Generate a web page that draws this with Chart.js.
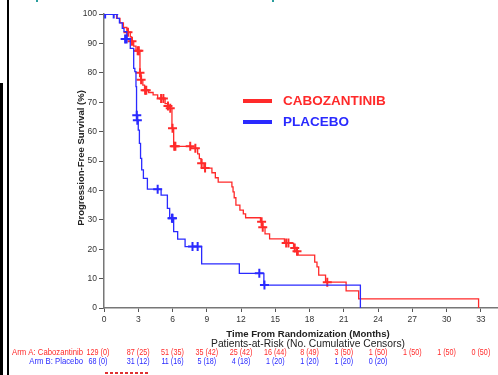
<!DOCTYPE html>
<html>
<head>
<meta charset="utf-8">
<script src="https://cdn.jsdelivr.net/npm/chart.js@4.4.1/dist/chart.umd.min.js"></script>
<style>
  html, body { margin: 0; padding: 0; background: #fff; }
  #wrap { width: 498px; height: 375px; position: relative; }
</style>
</head>
<body>
<div id="wrap"><canvas id="km" width="498" height="375"></canvas></div>
<script>
// Kaplan-Meier steps: time (months) where survival drops, new survival (%)
const caboT = [0, 1.1, 1.4, 1.7, 2.0, 2.3, 2.4, 2.6, 2.8, 3.15, 3.25, 3.4, 3.55, 3.9, 4.3, 4.7, 5.35, 5.6, 5.8, 5.95, 6.1, 7.6, 8.2, 8.35, 8.5, 8.75, 9.45, 9.75, 10.0,
  11.2, 11.3, 11.4, 11.55, 11.9, 12.2, 12.4, 13.7, 13.85, 14.1, 14.5, 15.8, 16.6, 16.85, 17.0, 18.45, 18.65, 18.8, 19.4, 21.2, 22.3, 32.8];
const caboS = [100, 98.5, 97, 95.4, 93.8, 92.2, 90.7, 89.1, 87.5, 80.0, 77.6, 75.8, 74.1, 73.3, 72.5, 71.3, 69.5, 68.7, 67.9, 61.1, 55.0, 54.3, 52.4, 50.8, 49.2, 47.6, 46.0, 44.3, 42.8,
  41.2, 39.5, 37.5, 35.0, 33.3, 32.0, 30.7, 29.3, 27.5, 25.2, 23.5, 22.1, 20.4, 19.3, 18.0, 15.6, 14.0, 11.2, 8.8, 5.8, 3.1, 0];
const caboCensT = [2.1, 2.45, 2.95, 3.05, 3.15, 3.25, 3.6, 3.7, 5.0, 5.2, 5.6, 5.8, 6.0, 6.15, 6.25, 7.55, 8.0, 8.55, 8.85, 13.8, 13.9, 15.95, 16.15, 16.7, 16.9, 19.55];
const caboCensS = [93.8, 90.7, 87.5, 87.5, 80.0, 77.6, 74.1, 74.1, 71.3, 71.3, 68.7, 67.9, 61.1, 55.0, 55.0, 55.0, 54.3, 49.2, 47.6, 29.3, 27.5, 22.1, 22.1, 20.4, 19.3, 8.8];

const placT = [0, 1.15, 1.35, 1.6, 1.75, 2.0, 2.3, 2.6, 2.7, 2.8, 2.85, 2.9, 3.0, 3.1, 3.2, 3.3, 3.45, 3.8, 5.0, 5.55, 5.75, 6.1, 6.45, 7.1, 8.55, 11.85, 14.0, 22.45];
const placS = [100, 98.5, 97, 95.1, 94, 91.5, 88.3, 81.5, 80.4, 75.3, 65.6, 63.9, 60.5, 56, 50.9, 47, 44.1, 40.4, 38.4, 33.9, 30.5, 26.0, 23.4, 20.9, 15.0, 11.8, 7.8, 0];
const placCensT = [0.1, 0.85, 1.85, 1.98, 2.87, 2.92, 4.7, 5.95, 6.0, 7.75, 8.2, 13.6, 14.05];
const placCensS = [100, 100, 91.5, 91.5, 65.6, 63.9, 40.4, 30.5, 30.5, 20.9, 20.9, 11.8, 7.8];

const xTicks = [0, 3, 6, 9, 12, 15, 18, 21, 24, 27, 30, 33];
const yTicks = [0, 10, 20, 30, 40, 50, 60, 70, 80, 90, 100];
const riskCabo = ['129 (0)', '87 (25)', '51 (35)', '35 (42)', '25 (42)', '16 (44)', '8 (49)', '3 (50)', '1 (50)', '1 (50)', '1 (50)', '0 (50)'];
const riskPlac = ['68 (0)', '31 (12)', '11 (16)', '5 (18)', '4 (18)', '1 (20)', '1 (20)', '1 (20)', '0 (20)'];

const RED = '#ff2a2a';
const BLUE = '#2a2aff';
const FONT = '"Liberation Sans", Arial, sans-serif';

function pts(xs, ys) { return xs.map((x, i) => ({ x: x, y: ys[i] })); }

// narrow text helper (the risk table is set in a condensed face)
function narrowText(c, txt, x, y, align, sx) {
  c.save();
  c.translate(x, y);
  c.scale(sx, 1);
  c.textAlign = align;
  c.fillText(txt, 0, 0);
  c.restore();
}

// extra text, legend and slide leftovers
const extras = {
  id: 'extras',
  beforeDraw(chart) {
    const c = chart.ctx;
    c.save();
    c.fillStyle = '#fff';
    c.fillRect(0, 0, chart.width, chart.height);
    c.fillStyle = '#000';
    c.fillRect(7, 0, 2, 375);
    c.fillRect(0, 83, 3, 292);
    c.fillStyle = '#2a9d9d';
    c.fillRect(36, 0, 2, 2);
    c.fillRect(272, 0, 2, 2);
    c.fillStyle = '#e03030';
    for (let x = 105; x < 147; x += 5) c.fillRect(x, 372, 3, 2);
    c.restore();
  },
  afterDraw(chart) {
    const c = chart.ctx;
    const xs = chart.scales.x;
    c.save();
    // y title
    c.translate(81, 158);
    c.rotate(-Math.PI / 2);
    c.fillStyle = '#222';
    c.font = 'bold 9.5px ' + FONT;
    c.textAlign = 'center';
    c.textBaseline = 'middle';
    c.fillText('Progression-Free Survival (%)', 0, 0);
    c.restore();

    c.save();
    c.fillStyle = '#222';
    c.textAlign = 'center';
    c.textBaseline = 'middle';
    c.font = 'bold 9.6px ' + FONT;
    c.fillText('Time From Randomization (Months)', 308, 334);
    c.font = '10.3px ' + FONT;
    c.fillText('Patients-at-Risk (No. Cumulative Censors)', 308, 344);

    // risk table
    c.font = '9px ' + FONT;
    c.fillStyle = RED;
    narrowText(c, 'Arm A: Cabozantinib', 83, 353, 'right', 0.86);
    c.fillStyle = BLUE;
    narrowText(c, 'Arm B: Placebo', 83, 362, 'right', 0.86);
    const row = (vals, y, col) => {
      c.fillStyle = col;
      vals.forEach((v, i) => {
        const px = xs.getPixelForValue(xTicks[i]) - (i === 0 ? 6 : 0);
        narrowText(c, v, px, y, 'center', 0.8);
      });
    };
    row(riskCabo, 353, RED);
    row(riskPlac, 362, BLUE);

    // legend
    c.fillStyle = RED;
    c.fillRect(243, 99, 29, 4);
    c.fillStyle = BLUE;
    c.fillRect(243, 120, 29, 4);
    c.font = 'bold 13.5px ' + FONT;
    c.textAlign = 'left';
    c.fillStyle = RED;
    c.fillText('CABOZANTINIB', 283, 101.5);
    c.fillStyle = BLUE;
    c.fillText('PLACEBO', 283, 122.5);
    c.restore();
  }
};

new Chart(document.getElementById('km'), {
  type: 'scatter',
  data: {
    datasets: [
      { data: pts(placCensT, placCensS), pointStyle: 'cross', radius: 4.5, borderWidth: 2, borderColor: BLUE, showLine: false, order: 1 },
      { data: pts(placT, placS), showLine: true, stepped: 'before', borderColor: BLUE, borderWidth: 1.3, pointRadius: 0, fill: false, order: 2 },
      { data: pts(caboCensT, caboCensS), pointStyle: 'cross', radius: 4.5, borderWidth: 2, borderColor: RED, showLine: false, order: 3 },
      { data: pts(caboT, caboS), showLine: true, stepped: 'before', borderColor: RED, borderWidth: 1.3, pointRadius: 0, fill: false, order: 4 }
    ]
  },
  options: {
    responsive: false,
    animation: false,
    layout: { autoPadding: false, padding: { left: 70, right: 0, top: 14, bottom: 0 } },
    plugins: { legend: { display: false }, tooltip: { enabled: false } },
    scales: {
      x: {
        type: 'linear',
        min: 0,
        max: 34.5,
        afterFit: s => { s.height = 67; },
        afterBuildTicks: s => { s.ticks = xTicks.map(v => ({ value: v })); },
        grid: { drawOnChartArea: false, drawTicks: true, tickLength: 4, color: '#555' },
        border: { display: true, color: '#777', width: 1.5 },
        ticks: { color: '#333', font: { size: 8.5, family: FONT }, padding: 3, maxRotation: 0, autoSkip: false }
      },
      y: {
        min: 0,
        max: 100,
        afterFit: s => { s.width = 34; },
        afterBuildTicks: s => { s.ticks = yTicks.map(v => ({ value: v })); },
        grid: { drawOnChartArea: false, drawTicks: true, tickLength: 5, color: '#555' },
        border: { display: true, color: '#777', width: 1.5 },
        ticks: { color: '#333', font: { size: 8.5, family: FONT }, padding: 2 }
      }
    }
  },
  plugins: [extras]
});
</script>
</body>
</html>
